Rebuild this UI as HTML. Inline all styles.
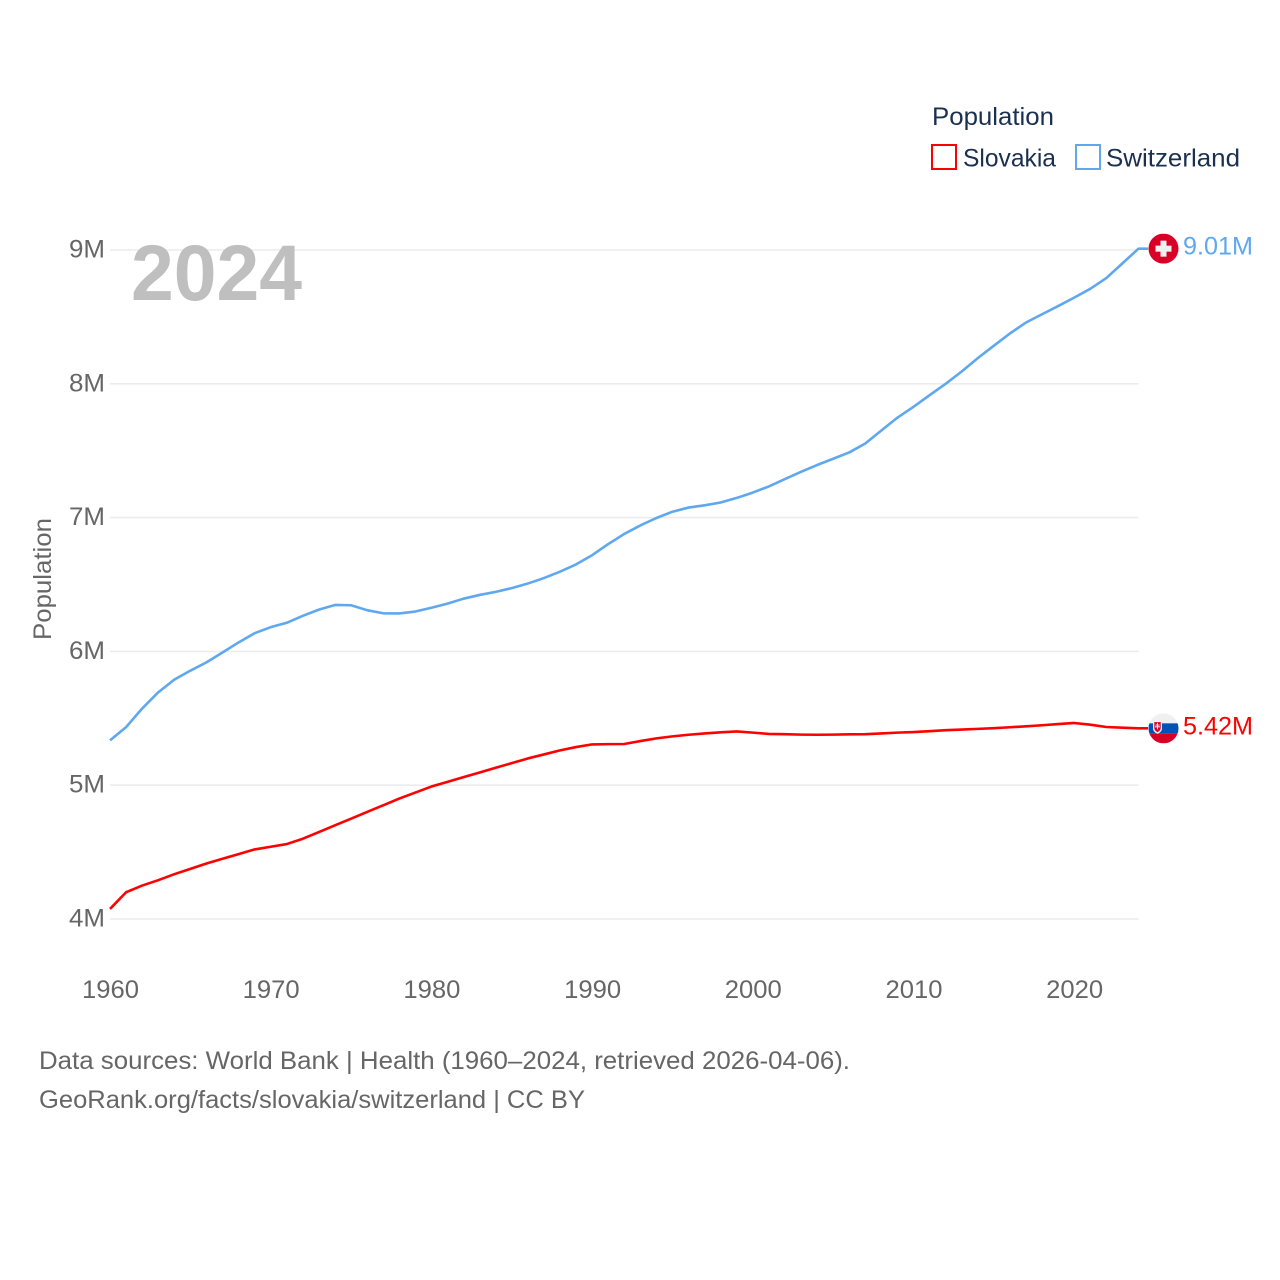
<!DOCTYPE html>
<html lang="en">
<head>
<meta charset="utf-8">
<title>Population: Slovakia and Switzerland</title>
<style>
html,body{margin:0;padding:0;background:#fff}
svg{display:block}
text{font-family:"Liberation Sans",sans-serif}
.tick{font-size:25px;fill:#666}
.leg{font-size:25px;fill:#1a3050}
.foot{font-size:25px;fill:#666}
</style>
</head>
<body>
<svg id="chart" xmlns="http://www.w3.org/2000/svg" width="1280" height="1280" viewBox="0 0 1280 1280">
  <rect width="1280" height="1280" fill="#fff"/>
  <g id="grid"></g>
  <text x="131" y="300" font-size="79" font-weight="700" fill="#bfbfbf" textLength="171" lengthAdjust="spacingAndGlyphs">2024</text>
  <g id="yticks"></g>
  <g id="xticks"></g>
  <text class="tick" transform="translate(51 640) rotate(-90)" textLength="122" lengthAdjust="spacingAndGlyphs">Population</text>
  <g id="series"></g>

  <g>
    <text class="leg" x="932" y="125" textLength="122" lengthAdjust="spacingAndGlyphs">Population</text>
    <rect x="932" y="145" width="24" height="24" fill="none" stroke="#ff0000" stroke-width="2"/>
    <text class="leg" x="963" y="166.5" textLength="93" lengthAdjust="spacingAndGlyphs">Slovakia</text>
    <rect x="1076" y="145" width="24" height="24" fill="none" stroke="#5fa8f0" stroke-width="2"/>
    <text class="leg" x="1106" y="166.5" textLength="134" lengthAdjust="spacingAndGlyphs">Switzerland</text>
  </g>

  <defs>
    <clipPath id="flag-clip"><circle cx="0" cy="0" r="15"/></clipPath>
  </defs>
  <g id="flag-ch">
    <g clip-path="url(#flag-clip)">
      <rect x="-15" y="-15" width="30" height="30" fill="#d80027"/>
      <rect x="-8" y="-3" width="16" height="6" fill="#f0f0f0"/>
      <rect x="-3" y="-8" width="6" height="16" fill="#f0f0f0"/>
    </g>
  </g>
  <g id="flag-sk">
    <g clip-path="url(#flag-clip)">
      <rect x="-15" y="-15" width="30" height="10" fill="#f0f0f0"/>
      <rect x="-15" y="-5" width="30" height="10" fill="#0052b4"/>
      <rect x="-15" y="5" width="30" height="10" fill="#d80027"/>
      <path d="M-10.5 -7.5H-1.5V0C-1.5 3 -4 4.5 -6 5.5C-8 4.5 -10.5 3 -10.5 0Z" fill="#f0f0f0"/>
      <path d="M-9.2 -6.2H-2.8V-0.5C-2.8 1.5 -4.5 3 -6 3.8C-7.5 3 -9.2 1.5 -9.2 -0.5Z" fill="#d80027"/>
      <rect x="-6.5" y="-5.5" width="1" height="6.5" fill="#f0f0f0"/>
      <rect x="-8" y="-3.8" width="4" height="1" fill="#f0f0f0"/>
      <rect x="-8.5" y="-2" width="5" height="1" fill="#f0f0f0"/>
    </g>
  </g>
  <g id="end-labels"></g>

  <g>
    <text class="foot" x="39" y="1069" textLength="811" lengthAdjust="spacingAndGlyphs">Data sources: World Bank | Health (1960–2024, retrieved 2026-04-06).</text>
    <text class="foot" x="39" y="1108" textLength="546" lengthAdjust="spacingAndGlyphs">GeoRank.org/facts/slovakia/switzerland | CC BY</text>
  </g>
</svg>
<script>
const firstYear = 1960;
const switzerland = [5.335,5.434,5.573,5.694,5.789,5.856,5.918,5.992,6.067,6.136,6.181,6.214,6.266,6.312,6.347,6.345,6.308,6.285,6.284,6.298,6.326,6.357,6.394,6.422,6.445,6.473,6.507,6.548,6.596,6.650,6.719,6.802,6.878,6.941,6.997,7.044,7.075,7.092,7.113,7.147,7.187,7.233,7.288,7.342,7.393,7.440,7.487,7.554,7.651,7.747,7.828,7.915,8.000,8.092,8.192,8.285,8.376,8.458,8.520,8.581,8.644,8.710,8.790,8.900,9.010];
const slovakia = [4.075,4.200,4.250,4.290,4.335,4.375,4.415,4.450,4.485,4.520,4.540,4.560,4.600,4.650,4.700,4.750,4.800,4.850,4.900,4.945,4.990,5.025,5.060,5.095,5.130,5.165,5.200,5.230,5.260,5.285,5.305,5.307,5.308,5.330,5.350,5.365,5.377,5.387,5.395,5.402,5.393,5.383,5.381,5.378,5.377,5.378,5.380,5.381,5.387,5.393,5.397,5.404,5.411,5.416,5.421,5.426,5.433,5.440,5.448,5.457,5.465,5.452,5.435,5.430,5.425];
const yTickValues = [4,5,6,7,8,9];
const yTickLabels = ["4M","5M","6M","7M","8M","9M"];
const xTickYears = [1960,1970,1980,1990,2000,2010,2020];
const endLabelSwitzerland = "9.01M";
const endLabelSlovakia = "5.42M";

const NS = "http://www.w3.org/2000/svg";
function xScale(year){ return 110 + (year - 1960) * 16.07; }
function yScale(v){ return 919 - (v - 4) * 133.8; }
function node(tag, parent){
  const el = document.createElementNS(NS, tag);
  parent.appendChild(el);
  return el;
}

const gridGroup = document.getElementById("grid");
const yTickGroup = document.getElementById("yticks");
yTickValues.forEach(function(v, i){
  const line = node("line", gridGroup);
  
  
  line.setAttribute("x1", xScale(1960));
  line.setAttribute("x2", xScale(2024));
  line.setAttribute("y1", yScale(v));
  line.setAttribute("y2", yScale(v));
  line.setAttribute("stroke", "#ececec");
  line.setAttribute("stroke-width", "1.6");
  const t = node("text", yTickGroup);
  
  
  t.setAttribute("class", "tick");
  t.setAttribute("x", 105);
  t.setAttribute("y", yScale(v) + 7.5);
  t.setAttribute("text-anchor", "end");
  t.setAttribute("textLength", "36");
  t.setAttribute("lengthAdjust", "spacingAndGlyphs");
  t.textContent = yTickLabels[i];
});

const xTickGroup = document.getElementById("xticks");
xTickYears.forEach(function(year){
  const t = node("text", xTickGroup);
  
  
  t.setAttribute("class", "tick");
  t.setAttribute("x", xScale(year) + 0.5);
  t.setAttribute("y", 998);
  t.setAttribute("text-anchor", "middle");
  t.setAttribute("textLength", "57");
  t.setAttribute("lengthAdjust", "spacingAndGlyphs");
  t.textContent = String(year);
});

const seriesGroup = document.getElementById("series");
function drawSeries(values, color, name){
  const d = values.map(function(v, i){
    return (i ? "L" : "M") + xScale(firstYear + i).toFixed(2) + " " + yScale(v).toFixed(2);
  }).join(" ");
  const lastY = yScale(values[values.length - 1]);
  const path = node("path", seriesGroup);
  
  
  path.setAttribute("d", d + " L1148 " + lastY.toFixed(2));
  path.setAttribute("fill", "none");
  path.setAttribute("stroke", color);
  path.setAttribute("stroke-width", "2.6");
  path.setAttribute("stroke-linejoin", "round");
  return lastY;
}
const chY = drawSeries(switzerland, "#5fa8f0", "switzerland-line");
const skY = drawSeries(slovakia, "#ff0000", "slovakia-line");

document.getElementById("flag-ch").setAttribute("transform", "translate(1163.5 " + chY.toFixed(2) + ")");
document.getElementById("flag-sk").setAttribute("transform", "translate(1163.5 " + skY.toFixed(2) + ")");

const endGroup = document.getElementById("end-labels");
const chLabel = node("text", endGroup);


chLabel.setAttribute("x", 1183);
chLabel.setAttribute("y", chY + 6);
chLabel.setAttribute("font-size", "25");
chLabel.setAttribute("fill", "#5fa8f0");
chLabel.setAttribute("textLength", "70");
chLabel.setAttribute("lengthAdjust", "spacingAndGlyphs");
chLabel.textContent = endLabelSwitzerland;
const skLabel = node("text", endGroup);


skLabel.setAttribute("x", 1183);
skLabel.setAttribute("y", skY + 6);
skLabel.setAttribute("font-size", "25");
skLabel.setAttribute("fill", "#ff0000");
skLabel.setAttribute("textLength", "70");
skLabel.setAttribute("lengthAdjust", "spacingAndGlyphs");
skLabel.textContent = endLabelSlovakia;
</script>
</body>
</html>
